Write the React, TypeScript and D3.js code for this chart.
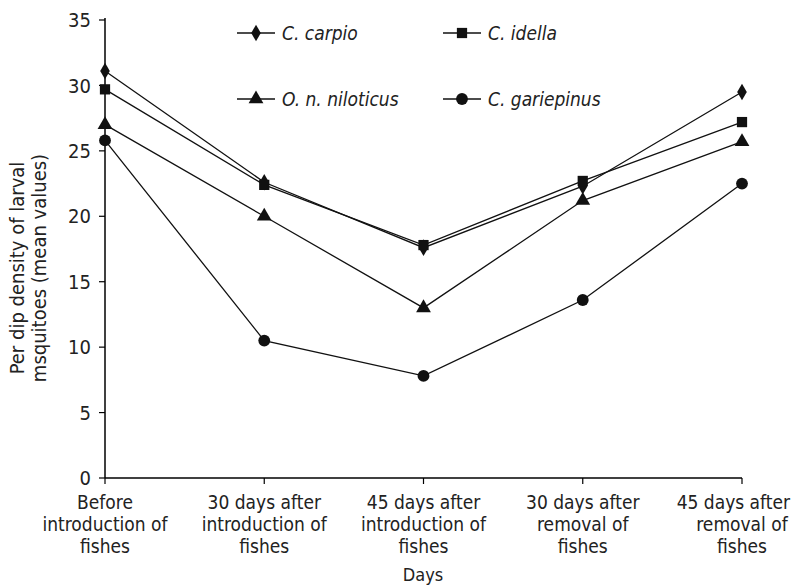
import React from "react";
import * as d3 from "d3";

const categories = [
  ["Before", "introduction of", "fishes"],
  ["30 days after", "introduction of", "fishes"],
  ["45 days after", "introduction of", "fishes"],
  ["30 days after", "removal of", "fishes"],
  ["45 days after", "removal of", "fishes"],
];
const yTicks = [0, 5, 10, 15, 20, 25, 30, 35];

const carpio = [31.1, 22.6, 17.6, 22.3, 29.5];
const idella = [29.7, 22.4, 17.8, 22.7, 27.2];
const niloticus = [27.0, 20.0, 13.0, 21.2, 25.7];
const gariepinus = [25.8, 10.5, 7.8, 13.6, 22.5];

const series = [
  { name: "C. carpio", values: carpio, symbol: d3.symbolDiamond },
  { name: "C. idella", values: idella, symbol: d3.symbolSquare },
  { name: "O. n. niloticus", values: niloticus, symbol: d3.symbolTriangle },
  { name: "C. gariepinus", values: gariepinus, symbol: d3.symbolCircle },
];

const W = 792, H = 585;
const left = 105, right = 742, top = 20, bottom = 478;
const font = "'DejaVu Sans Condensed', 'DejaVu Sans', sans-serif";

export default function App() {
  const x = d3.scalePoint<number>().domain(d3.range(categories.length)).range([left, right]);
  const y = d3.scaleLinear().domain([0, 35]).range([bottom, top]);
  const line = d3.line<number>().x((_, i) => x(i)!).y((v) => y(v));
  const sym = (s: d3.SymbolType, size: number) => d3.symbol().type(s).size(size)()!;
  const symSize = (s: d3.SymbolType) =>
    s === d3.symbolDiamond ? 80 : s === d3.symbolSquare ? 105 : s === d3.symbolTriangle ? 95 : 110;

  const legendPos = [
    { lx: 237, ty: 33 },
    { lx: 443, ty: 33 },
    { lx: 237, ty: 99 },
    { lx: 443, ty: 99 },
  ];

  return (
    <svg width={W} height={H} style={{ position: "absolute", left: 0, top: 0, background: "#fff" }}>
      <rect width={W} height={H} fill="#fff" />
      <line x1={left} x2={left} y1={top - 2} y2={bottom} stroke="#000" strokeWidth={1.5} />
      <line x1={left} x2={right} y1={bottom} y2={bottom} stroke="#000" strokeWidth={1.5} />
      {yTicks.map((t) => (
        <g key={t}>
          <line x1={left - 6} x2={left} y1={y(t)} y2={y(t)} stroke="#000" strokeWidth={1.2} />
          <text x={left - 14} y={y(t)} dy="0.36em" textAnchor="end" fontFamily={font} fontSize={20} fill="#222">
            {t}
          </text>
        </g>
      ))}
      {categories.map((c, i) => (
        <g key={i}>
          <line x1={x(i)} x2={x(i)} y1={bottom} y2={bottom + 6} stroke="#000" strokeWidth={1.2} />
          {c.map((ln, j) => {
            const last = i === categories.length - 1 && j === 0;
            return (
              <text
                key={j}
                x={last ? 790 : x(i)}
                y={502 + j * 22}
                dy="0.35em"
                textAnchor={last ? "end" : "middle"}
                fontFamily={font}
                fontSize={19}
                fill="#222"
              >
                {ln}
              </text>
            );
          })}
        </g>
      ))}
      <text x={423} y={575} dy="0.35em" textAnchor="middle" fontFamily={font} fontSize={18} fill="#222">
        Days
      </text>
      <g transform="translate(17,268) rotate(-90)">
        <text x={0} y={0} dy="0.35em" textAnchor="middle" fontFamily={font} fontSize={20} fill="#222">
          Per dip density of larval
        </text>
        <text x={0} y={22} dy="0.35em" textAnchor="middle" fontFamily={font} fontSize={20} fill="#222">
          msquitoes (mean values)
        </text>
      </g>
      {series.map((s) => (
        <g key={s.name}>
          <path d={line(s.values)!} fill="none" stroke="#111" strokeWidth={1.3} />
          {s.values.map((v, i) => (
            <path key={i} d={sym(s.symbol, symSize(s.symbol))} transform={`translate(${x(i)},${y(v)})`} fill="#111" />
          ))}
        </g>
      ))}
      {series.map((s, k) => {
        const p = legendPos[k];
        return (
          <g key={s.name}>
            <line x1={p.lx} x2={p.lx + 38} y1={p.ty} y2={p.ty} stroke="#111" strokeWidth={1.3} />
            <path d={sym(s.symbol, symSize(s.symbol))} transform={`translate(${p.lx + 19},${p.ty})`} fill="#111" />
            <text x={p.lx + 45} y={p.ty} dy="0.35em" fontFamily={font} fontStyle="italic" fontSize={19} fill="#222">
              {s.name}
            </text>
          </g>
        );
      })}
    </svg>
  );
}
